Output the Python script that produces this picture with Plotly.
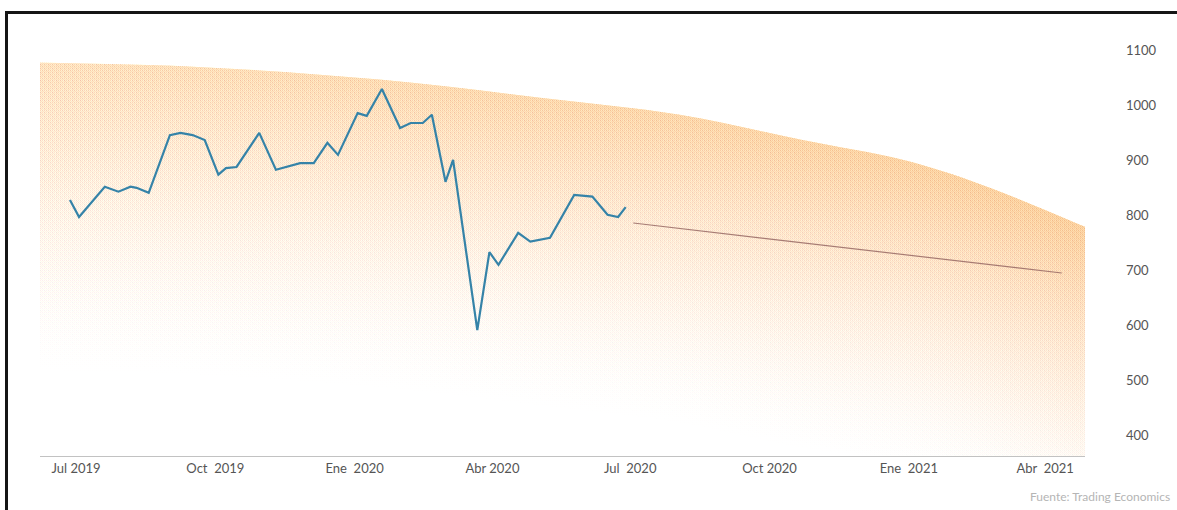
import plotly.graph_objects as go

# Precio semanal (USD)
price_dates = [
    "2019-06-27", "2019-07-03", "2019-07-20", "2019-07-29", "2019-08-06", "2019-08-10",
    "2019-08-18", "2019-09-01", "2019-09-08", "2019-09-16", "2019-09-24", "2019-10-03",
    "2019-10-08", "2019-10-15", "2019-10-30", "2019-11-10", "2019-11-26", "2019-12-05",
    "2019-12-14", "2019-12-21", "2020-01-03", "2020-01-09", "2020-01-19", "2020-01-31",
    "2020-02-07", "2020-02-15", "2020-02-21", "2020-03-01", "2020-03-06", "2020-03-22",
    "2020-03-30", "2020-04-05", "2020-04-18", "2020-04-26", "2020-05-09", "2020-05-25",
    "2020-06-06", "2020-06-16", "2020-06-23", "2020-06-28",
]
price_values = [
    828, 797, 852, 843, 852, 850,
    841, 946, 950, 946, 937, 874,
    886, 888, 950, 883, 895, 895,
    932, 910, 986, 981, 1030, 959,
    968, 968, 983, 861, 901, 591,
    733, 710, 768, 752, 759, 837,
    834, 801, 797, 815,
]

# Pronóstico
forecast_dates = ["2020-07-03", "2020-09-30", "2020-12-31", "2021-04-12"]
forecast_values = [786, 757, 728, 695]

# Límite superior de la banda
band_dates = [
    "2019-06-07", "2019-09-21", "2020-01-18", "2020-05-03", "2020-08-03",
    "2020-10-23", "2020-12-28", "2021-02-10", "2021-03-24", "2021-04-29",
]
band_values = [1078, 1070, 1047, 1014, 983, 937, 901, 864, 819, 777]

tick_dates = [
    "2019-07-01", "2019-10-01", "2020-01-01", "2020-04-01",
    "2020-07-01", "2020-10-01", "2021-01-01", "2021-04-01",
]
tick_labels = [
    "Jul 2019", "Oct  2019", "Ene  2020", "Abr 2020",
    "Jul  2020", "Oct 2020", "Ene  2021", "Abr  2021",
]
y_ticks = [400, 500, 600, 700, 800, 900, 1000, 1100]

Y_MIN, Y_MAX = 362, 1150

fig = go.Figure()

# Banda degradada: franjas anidadas que parten del límite superior. La opacidad
# de cada franja se elige para que la superposición siga un perfil suave.
n_layers = 60
depth_step = 9.5
top_alpha_left, top_alpha_right = 0.52, 0.70
profile_power = 1.5


def layer_alphas(top_alpha):
    target = [top_alpha * (1 - (k - 1) / n_layers) ** profile_power
              for k in range(1, n_layers + 1)] + [0.0]
    return [1 - (1 - target[k]) / (1 - target[k + 1]) for k in range(n_layers)]


alphas_left = layer_alphas(top_alpha_left)
alphas_right = layer_alphas(top_alpha_right)
spline = dict(width=0, shape="spline", smoothing=1.0)
for k in range(1, n_layers + 1):
    lower = [max(v - k * depth_step, Y_MIN - 5) for v in band_values]
    fig.add_trace(go.Scatter(
        x=band_dates, y=band_values, mode="lines", line=spline,
        hoverinfo="skip", showlegend=False,
    ))
    fig.add_trace(go.Scatter(
        x=band_dates, y=lower, mode="lines", line=spline,
        fill="tonexty",
        fillgradient=dict(
            type="horizontal",
            colorscale=[
                [0.0, f"rgba(244,190,128,{alphas_left[k - 1]:.4f})"],
                [1.0, f"rgba(242,182,115,{alphas_right[k - 1]:.4f})"],
            ],
        ),
        hoverinfo="skip", showlegend=False,
    ))

# Línea de pronóstico
fig.add_trace(go.Scatter(
    x=forecast_dates, y=forecast_values, mode="lines",
    line=dict(color="rgba(150,105,100,0.85)", width=1.2),
    showlegend=False,
))

# Precio
fig.add_trace(go.Scatter(
    x=price_dates, y=price_values, mode="lines",
    line=dict(color="#3583a8", width=2.2),
    showlegend=False,
))

fig.update_layout(
    width=1177, height=510,
    margin=dict(l=40, r=92, t=23, b=54),
    paper_bgcolor="white", plot_bgcolor="white",
    font=dict(family="Lato, Open Sans, sans-serif", color="#555555", size=13),
    xaxis=dict(
        type="date",
        range=["2019-06-07 05:00", "2021-04-27 08:00"],
        tickvals=tick_dates, ticktext=tick_labels,
        showgrid=False, zeroline=False,
        showline=True, linecolor="#c2c2c2", linewidth=1,
        ticks="", tickfont=dict(size=13, color="#555555"),
    ),
    yaxis=dict(
        range=[Y_MIN, Y_MAX], side="right",
        tickvals=y_ticks, ticktext=[str(v) for v in y_ticks],
        showgrid=False, zeroline=False, showline=False,
        ticks="", ticklabelstandoff=40,
        tickfont=dict(size=13, color="#555555"),
    ),
    shapes=[
        dict(
            type="rect", xref="paper", yref="paper",
            x0=(6.5 - 40) / 1045, x1=1.5,
            y0=-0.5, y1=(456 - 12.5) / 433,
            line=dict(color="#151515", width=3), fillcolor="rgba(0,0,0,0)",
            layer="above",
        ),
    ],
    annotations=[
        dict(
            text="Fuente: Trading Economics", xref="paper", yref="paper",
            x=(1172 - 40) / 1045, y=(456 - 497) / 433,
            xanchor="right", yanchor="middle", showarrow=False,
            font=dict(size=12, color="#b5b5b5"),
        ),
    ],
)

fig.write_html("out.html")
